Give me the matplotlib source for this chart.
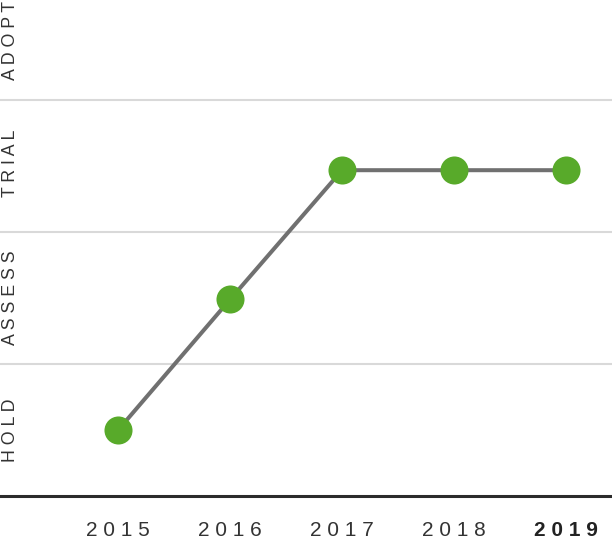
import matplotlib.pyplot as plt

years = ["2015", "2016", "2017", "2018", "2019"]
rings = ["HOLD", "ASSESS", "TRIAL", "ADOPT"]
# ring position of each year's blip (0 = bottom of HOLD band)
ring_pos = [0.5, 1.49, 2.47, 2.47, 2.47]
label_pos = [0.5, 1.5, 2.52, 3.45]

fig = plt.figure(figsize=(6.12, 5.4), dpi=100)
ax = fig.add_axes([0, 0, 1, 1])

xs = list(range(len(years)))
ax.plot(xs, ring_pos, color="#707070", lw=2.9, zorder=2)
ax.plot(xs, ring_pos, "o", color="#58aa2a", ms=20.2, mec="none", zorder=3)

# band separators
for r in range(1, len(rings)):
    ax.axhline(r, color="#d9d9d9", lw=1.5, zorder=1)
ax.axhline(0, color="#2b2b2b", lw=2.2, zorder=1)

# ring labels
for name, yc in zip(rings, label_pos):
    ax.text(-0.96, yc, " ".join(name), rotation=90, ha="center", va="center",
            fontsize=12.8, color="#333333", family="Liberation Sans")

# year labels
for i, y in enumerate(years):
    bold = i == len(years) - 1
    ax.text(i, -0.26, " ".join(y), ha="center", va="center", fontsize=15,
            color="#222222" if bold else "#333333",
            fontweight="bold" if bold else "normal", family="Liberation Sans")

ax.set_xlim(-1.054, 4.41)
ax.set_ylim(-0.333, 3.76)
ax.axis("off")

fig.savefig("out.png", dpi=100)
